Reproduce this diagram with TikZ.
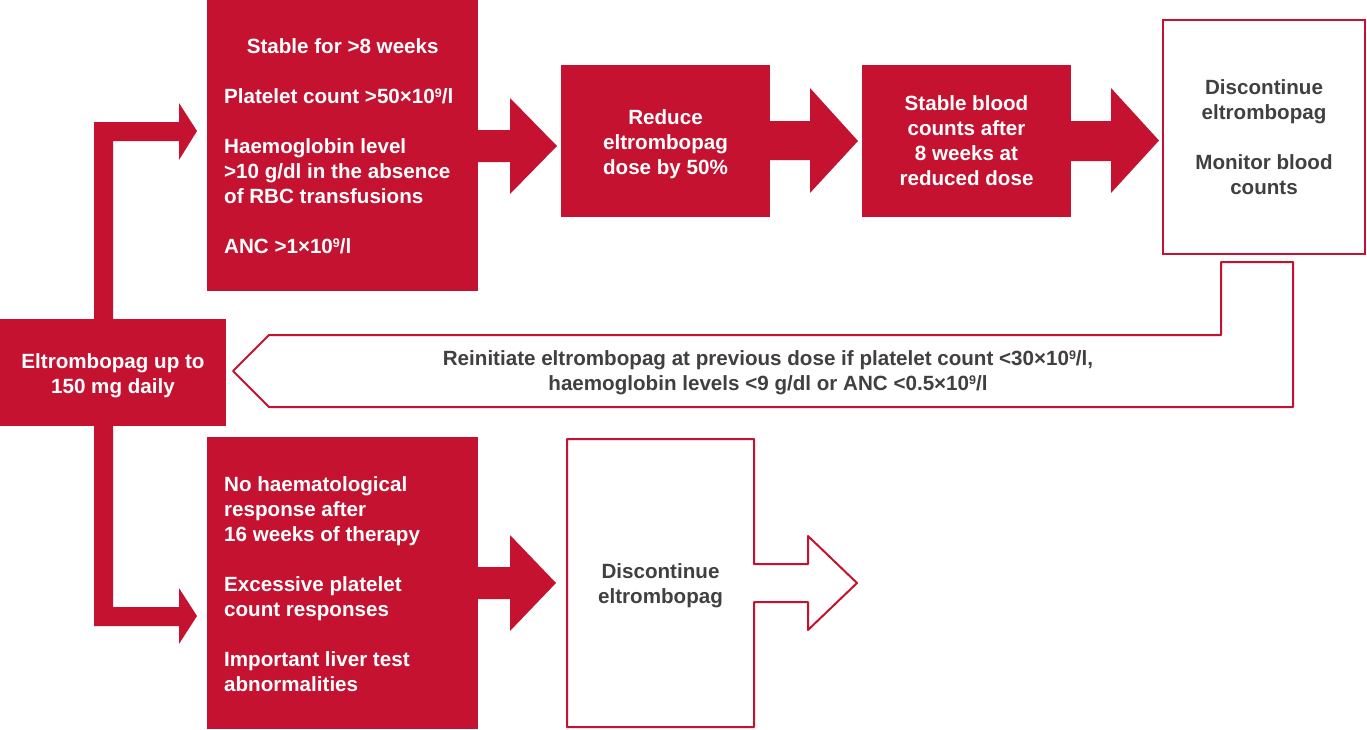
\documentclass[tikz,border=0pt]{standalone}
\usepackage{fontspec}
\setmainfont{Liberation Sans}
\usepackage{tkz-euclide}
\definecolor{BoxClr}{rgb}{0.769,0.071,0.188}
\definecolor{TextClr}{rgb}{0.25,0.25,0.25}
\newcommand{\tenexp}[1]{\raisebox{6pt}{\fontsize{12.5}{12.5}\selectfont #1}}

\begin{document}
\begin{tikzpicture}[x=1pt,y=-1pt,
  font=\fontsize{20.6}{25}\selectfont\bfseries,
  redbox/.style={fill=BoxClr,draw=none,inner sep=0pt,text=white,align=center},
  whitebox/.style={fill=white,draw=BoxClr,line width=2pt,inner sep=0pt,text=TextClr,align=center},
  listtxt/.style={text=white,align=left,anchor=west,inner sep=0pt}]
\useasboundingbox (0,0) rectangle (1367,729);

\tkzDefPoints{94/319/up1,94/122/up2,179/122/up3,179/103/up4,197/131/up5,179/160/up6,179/141/up7,113/141/up8,113/319/up9}
\tkzDefPoints{94/426/dn1,94/626/dn2,179/626/dn3,179/588/dn4,197/616/dn5,179/644/dn6,179/607/dn7,113/607/dn8,113/426/dn9}
\tkzDefPoints{478/130/ab1,510/130/ab2,510/98/ab3,557/146/ab4,510/194/ab5,510/162/ab6,478/162/ab7}
\tkzDefPoints{770/121/bc1,810/121/bc2,810/88/bc3,858/141/bc4,810/193/bc5,810/160/bc6,770/160/bc7}
\tkzDefPoints{1071/121/cd1,1111/121/cd2,1111/88/cd3,1159/140.5/cd4,1111/193/cd5,1111/161/cd6,1071/161/cd7}
\tkzDefPoints{478/567/fg1,510/567/fg2,510/535/fg3,556/583/fg4,510/631/fg5,510/599/fg6,478/599/fg7}
\tkzDefPoints{567/439/gx1,754/439/gx2,754/564/gx3,808/564/gx4,808/536/gx5,857/583/gx6,808/630/gx7,808/602/gx8,754/602/gx9,754/727/gx10,567/727/gx11}
\tkzDefPoints{1221/262/rb1,1293/262/rb2,1293/407/rb3,269/407/rb4,233/371/rb5,269/335/rb6,1221/335/rb7}

\tkzFillPolygon[fill=BoxClr](up1,up2,up3,up4,up5,up6,up7,up8,up9)
\tkzFillPolygon[fill=BoxClr](dn1,dn2,dn3,dn4,dn5,dn6,dn7,dn8,dn9)
\tkzFillPolygon[fill=BoxClr](ab1,ab2,ab3,ab4,ab5,ab6,ab7)
\tkzFillPolygon[fill=BoxClr](bc1,bc2,bc3,bc4,bc5,bc6,bc7)
\tkzFillPolygon[fill=BoxClr](cd1,cd2,cd3,cd4,cd5,cd6,cd7)
\tkzFillPolygon[fill=BoxClr](fg1,fg2,fg3,fg4,fg5,fg6,fg7)

\tkzDrawPolygon[line width=2pt,color=BoxClr,fill=white](gx1,gx2,gx3,gx4,gx5,gx6,gx7,gx8,gx9,gx10,gx11)
\tkzDrawPolygon[line width=2pt,color=BoxClr,fill=white](rb1,rb2,rb3,rb4,rb5,rb6,rb7)

\node[redbox,minimum width=271pt,minimum height=291pt] (stable) at (342.5,145.5) {};
\node[redbox,minimum width=209pt,minimum height=152pt] (reduce) at (665.5,141) {};
\node[redbox,minimum width=209pt,minimum height=152pt] (steady) at (966.5,141) {Stable blood\\ counts after\\ 8 weeks at\\ reduced dose};
\node[whitebox,minimum width=202pt,minimum height=234pt] (stopMon) at (1264,137) {Discontinue\\ eltrombopag\\[25pt] Monitor blood\\ counts};
\node[redbox,minimum width=226pt,minimum height=107pt] (start) at (113,372.5) {};
\node[redbox,minimum width=271pt,minimum height=292pt] (noresp) at (342.5,583) {};

\node[text=white,align=center] (reduceTxt) at (665.5,144) {Reduce\\ eltrombopag\\ dose by 50\%};
\node[text=white,align=center] (startTxt) at (113,375.5) {Eltrombopag up to\\ 150 mg daily};
\node[listtxt] (stableTxt) at (224,146) {\makebox[237pt]{Stable for >8 weeks}\\[25pt]
  Platelet count >50×10\tenexp{9}/l\\[25pt]
  Haemoglobin level\\ >10 g/dl in the absence\\ of RBC transfusions\\[25pt]
  ANC >1×10\tenexp{9}/l};
\node[listtxt] (norespTxt) at (224,584) {No haematological\\ response after\\ 16 weeks of therapy\\[25pt]
  Excessive platelet\\ count responses\\[25pt]
  Important liver test\\ abnormalities};

\node[text=TextClr,align=center] (stopG) at (660.5,586) {Discontinue\\ eltrombopag};
\node[text=TextClr,align=center] (redo) at (768,373) {Reinitiate eltrombopag at previous dose if platelet count <30×10\tenexp{9}/l,\\ haemoglobin levels <9 g/dl or ANC <0.5×10\tenexp{9}/l};

\end{tikzpicture}
\end{document}
